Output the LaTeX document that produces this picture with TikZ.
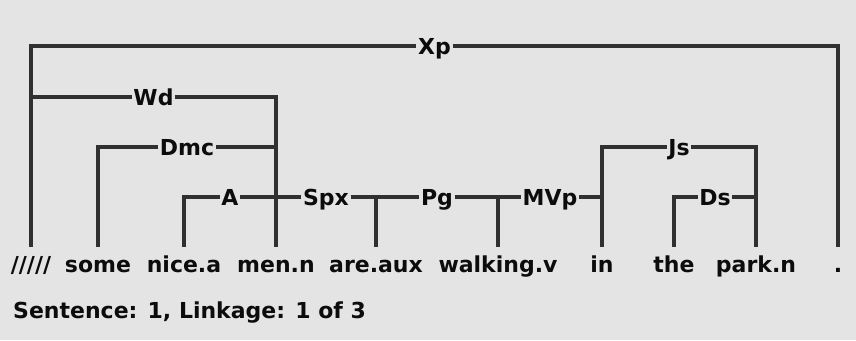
\documentclass[tikz,border=0pt]{standalone}
\usepackage{fontspec}
\setmainfont{DejaVu Sans}
\definecolor{paper}{HTML}{E4E4E4}
\definecolor{wire}{HTML}{303030}
\definecolor{ink}{HTML}{0C0C0C}
\begin{document}
\begin{tikzpicture}[x=1pt,y=-1pt,
  word/.style={anchor=base, font=\bfseries\fontsize{22}{26}\selectfont, text=ink,
    text height=16pt, text depth=5pt, inner xsep=0pt, inner ysep=9pt},
  lab/.style={anchor=center, font=\bfseries\fontsize{22}{26}\selectfont, text=ink,
    text height=16pt, text depth=0pt, inner xsep=1.5pt, inner ysep=0pt},
  link/.style={draw=wire, line width=3.2pt, line join=miter}]
% canvas
\fill[paper] (0,0) rectangle (856,340);
\useasboundingbox (0,0) rectangle (856,340);

% words of the sentence
\node[word] (w1)  at (31,272)  {/////};
\node[word] (w2)  at (98,272)  {some};
\node[word] (w3)  at (184,272) {nice.a};
\node[word] (w4)  at (276,272) {men.n};
\node[word] (w5)  at (376,272) {are.aux};
\node[word] (w6)  at (498,272) {walking.v};
\node[word] (w7)  at (602,272) {in};
\node[word] (w8)  at (674,272) {the};
\node[word] (w9)  at (756,272) {park.n};
\node[word] (w10) at (838,272) {.};

% link labels
\node[lab] (Xp)  at (434.5,46) {Xp};
\node[lab] (Wd)  at (153.5,97) {Wd};
\node[lab] (Dmc) at (187,147)  {Dmc};
\node[lab] (A)   at (230,197)  {A};
\node[lab] (Spx) at (326,197)  {Spx};
\node[lab] (Pg)  at (437,197)  {Pg};
\node[lab] (MVp) at (550,197)  {MVp};
\node[lab] (Js)  at (679,147)  {Js};
\node[lab] (Ds)  at (715,197)  {Ds};

% links
\draw[link] (w1.north) |- (Xp.west);  \draw[link] (Xp.east)  -| (w10.north);
\draw[link] (w1.north) |- (Wd.west);  \draw[link] (Wd.east)  -| (w4.north);
\draw[link] (w2.north) |- (Dmc.west); \draw[link] (Dmc.east) -| (w4.north);
\draw[link] (w3.north) |- (A.west);   \draw[link] (A.east)   -| (w4.north);
\draw[link] (w4.north) |- (Spx.west); \draw[link] (Spx.east) -| (w5.north);
\draw[link] (w5.north) |- (Pg.west);  \draw[link] (Pg.east)  -| (w6.north);
\draw[link] (w6.north) |- (MVp.west); \draw[link] (MVp.east) -| (w7.north);
\draw[link] (w7.north) |- (Js.west);  \draw[link] (Js.east)  -| (w9.north);
\draw[link] (w8.north) |- (Ds.west);  \draw[link] (Ds.east)  -| (w9.north);

% status line
\node[anchor=base west, font=\bfseries\fontsize{22}{26}\selectfont, text=ink, inner sep=0pt]
  (status) at (13,318) {Sentence: 1, Linkage: 1 of 3};
\end{tikzpicture}
\end{document}
